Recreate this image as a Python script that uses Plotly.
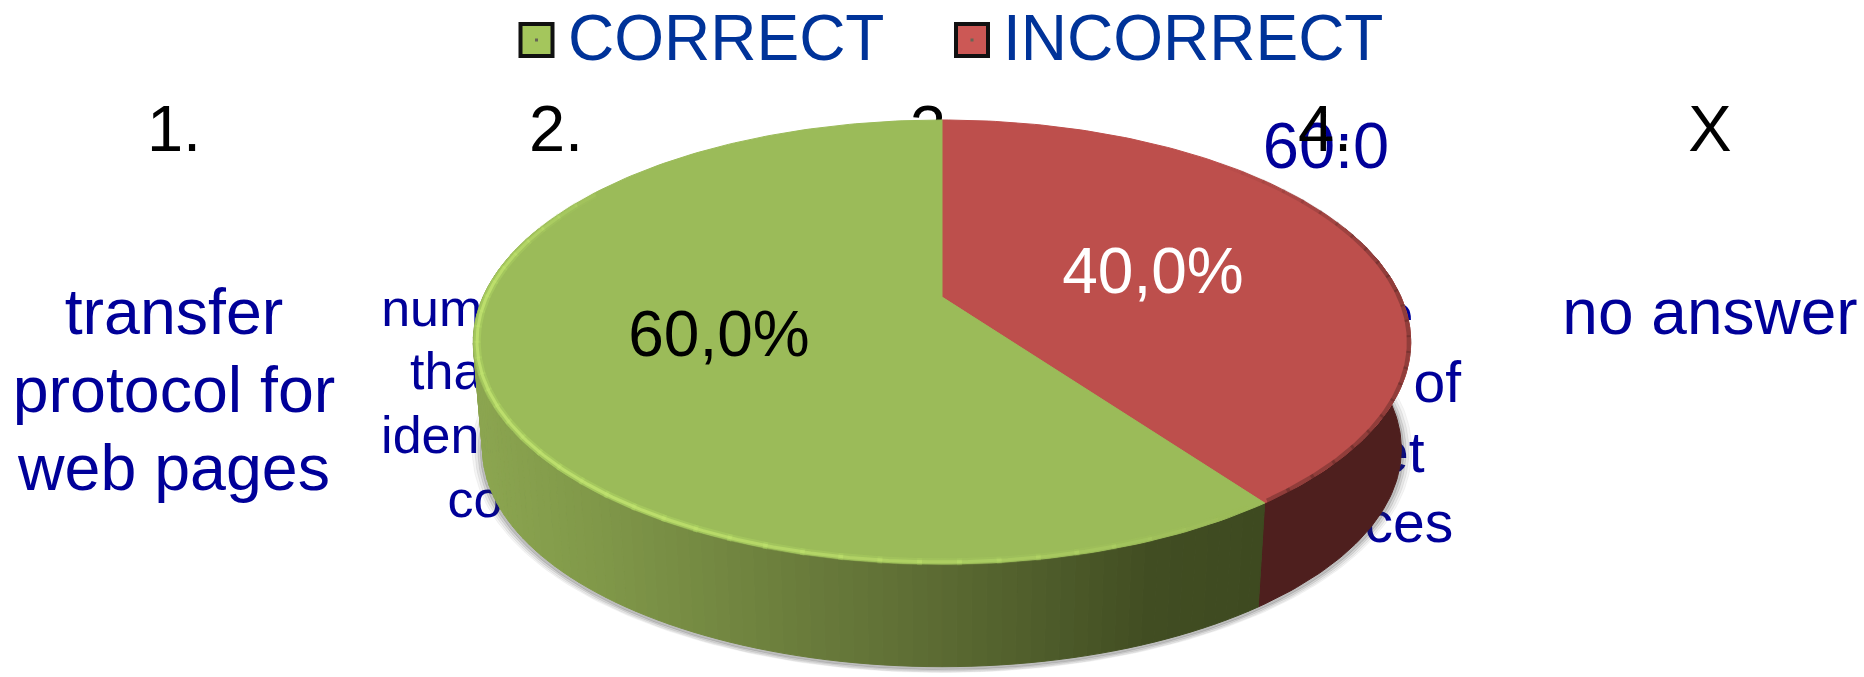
import math
import plotly.graph_objects as go

# ---- data ----
categories = ["CORRECT", "INCORRECT"]
values = [60, 40]
ratio_label = "60:0"
column_labels = ["1.", "2.", "3.", "4.", "X"]
answer_1 = ["transfer", "protocol for", "web pages"]
answer_2 = ["numerical label", "that is useful", "identifying your", "computer"]
answer_4 = ["unique", "address of", "Internet", "resources"]
answer_x = ["no answer"]

# ---- styles / layout ----
W, H = 1864, 677
FONT = "Liberation Sans"
NAVY = "#000099"
LEGEND_BLUE = "#003399"
TOP_COLORS = ["#9bbb59", "#bd4f4c"]
SWATCH_COLORS = ["#a4c65c", "#cc5855"]
RED_SIDE = "#4e1f1e"
column_x = [174, 556, 937, 1325, 1710]

# perspective disc: apex position, scale, foreshortening
AX, AY, A, B, K = 942, 297, 459, 212.9, 0.2027
BOTTOM_DY, BOTTOM_S = 108, 0.98
GREEN_STOPS = [(478, (140, 166, 80)), (600, (128, 152, 73)), (932, (92, 107, 51)),
               (1150, (65, 77, 34)), (1260, (62, 74, 32))]
TEXT_SHIFT = 0.22


def project(theta_deg, s=1.0, dy=0.0):
    """Disc angle (clockwise from the back) to pixel position."""
    t = math.radians(theta_deg)
    u, v = math.sin(t), -math.cos(t)
    w = 1.0 / (1.0 - K * v)
    return AX + s * A * u * w, AY + dy + s * B * v * w


def arc(a0, a1, s=1.0, dy=0.0, step=1.0):
    n = max(2, int(abs(a1 - a0) / step))
    pts = [project(a0 + (a1 - a0) * i / n, s, dy) for i in range(n + 1)]
    return [p[0] for p in pts], [p[1] for p in pts]


def green_at(x):
    for (x0, c0), (x1, c1) in zip(GREEN_STOPS, GREEN_STOPS[1:]):
        if x <= x1:
            f = max(0.0, (x - x0) / (x1 - x0))
            return "rgb(%d,%d,%d)" % tuple(round(a + (b - a) * f) for a, b in zip(c0, c1))
    return "rgb(%d,%d,%d)" % GREEN_STOPS[-1][1]


fig = go.Figure()


def add_text(lines, xs, baselines, size, color, pos="middle center"):
    fig.add_trace(go.Scatter(
        x=xs, y=[b - TEXT_SHIFT * size for b in baselines], text=lines, mode="text",
        textposition=pos, showlegend=False, hoverinfo="skip",
        textfont=dict(family=FONT, size=size, color=color)))


def add_poly(xs, ys, color):
    fig.add_trace(go.Scatter(
        x=xs + xs[:1], y=ys + ys[:1], mode="lines", fill="toself", fillcolor=color,
        line=dict(color=color, width=1), showlegend=False, hoverinfo="skip"))


def add_line(xs, ys, color, width):
    fig.add_trace(go.Scatter(x=xs, y=ys, mode="lines", line=dict(color=color, width=width),
                             showlegend=False, hoverinfo="skip"))


# text that sits behind the pie
add_text(answer_1, [column_x[0]] * 3, [332, 410, 488], 64.5, NAVY)
add_text(answer_2, [column_x[1]] * 4, [324, 387, 451, 515], 52, NAVY)
add_text(answer_4, [column_x[3] + 3] * 4, [332, 400, 470, 540], 57, NAVY)
add_text(answer_x, [column_x[4]], [332], 64, NAVY)
add_text([ratio_label], [1326], [166], 65, NAVY)
add_text(column_labels, column_x, [149] * 5, 65, "#000000")

# slice angles from the values
total = sum(values)
boundary = 360.0 * values[1] / total

# soft shadow under the disc
for grow, extra, alpha in [(0.022, 0, 0.05), (0.016, 1, 0.07), (0.010, 1.5, 0.10), (0.005, 1.5, 0.14)]:
    sx, sy = arc(62, 298, BOTTOM_S + grow, BOTTOM_DY + extra)
    add_poly(sx, sy, f"rgba(50,50,50,{alpha})")

# side wall: red part then green strips shaded by screen position
tx, ty = arc(70, boundary, 1.0, 0.0)
bx, by = arc(70, boundary, BOTTOM_S, BOTTOM_DY)
add_poly(tx + bx[::-1], ty + by[::-1], RED_SIDE)
STEP = 1.5
a = boundary
while a < 290:
    b = min(a + STEP, 290)
    tx, ty = arc(a, b, 1.0, 0.0)
    bx, by = arc(a, b, BOTTOM_S, BOTTOM_DY)
    add_poly(tx + bx[::-1], ty + by[::-1], green_at(sum(bx) / len(bx)))
    a = b

# top face
rx, ry = arc(0, boundary)
add_poly([AX] + rx, [AY] + ry, TOP_COLORS[1])
gx, gy = arc(boundary, 360)
add_poly([AX] + gx, [AY] + gy, TOP_COLORS[0])

# bevel along the front rim, fading toward the slice boundary and the back
RIM_STEP = 4.0
a = boundary + 2
while a < 300:
    b = a + RIM_STEP
    fade = min(1.0, (a - boundary) / 70.0, max(0.0, (304 - a) / 34.0))
    hx, hy = arc(a, b + 0.5, 0.992)
    add_line(hx, hy, f"rgba(176,214,100,{0.5 * fade:.2f})", 7)
    add_line(hx, hy, f"rgba(192,226,110,{0.85 * fade:.2f})", 3)
    a = b
a = 40.0
while a < boundary - 1:
    b = min(a + RIM_STEP, boundary - 1)
    fade = min(1.0, (a - 40.0) / 40.0)
    ex, ey = arc(a, b + 0.5, 0.996)
    add_line(ex, ey, f"rgba(90,40,38,{0.45 * fade:.2f})", 4)
    a = b

# slice percentages
pct = [f"{v / total * 100:.1f}".replace(".", ",") + "%" for v in values]
add_text([pct[0]], [719], [354], 64, "#000000")
add_text([pct[1]], [1153], [291], 64, "#ffffff")

# legend
swatch_x = [536.5, 972]
text_x = [568, 1003]
for i, name in enumerate(categories):
    fig.add_trace(go.Scatter(
        x=[swatch_x[i]], y=[40], mode="markers", showlegend=False, hoverinfo="skip",
        marker=dict(symbol="square", size=32, color=SWATCH_COLORS[i],
                    line=dict(color="#111111", width=4))))
    fig.add_trace(go.Scatter(
        x=[swatch_x[i]], y=[40], mode="markers", showlegend=False, hoverinfo="skip",
        marker=dict(symbol="square", size=3, color="#666655")))
    add_text([name], [text_x[i]], [58], 64, LEGEND_BLUE, "middle right")

fig.update_layout(
    width=W, height=H, autosize=False, margin=dict(l=0, r=0, t=0, b=0),
    paper_bgcolor="white", plot_bgcolor="white",
    xaxis=dict(range=[0, W], visible=False, fixedrange=True),
    yaxis=dict(range=[H, 0], visible=False, fixedrange=True),
)
fig.write_html("out.html", config={"displayModeBar": False},
               post_script="document.body.style.margin='0';")
